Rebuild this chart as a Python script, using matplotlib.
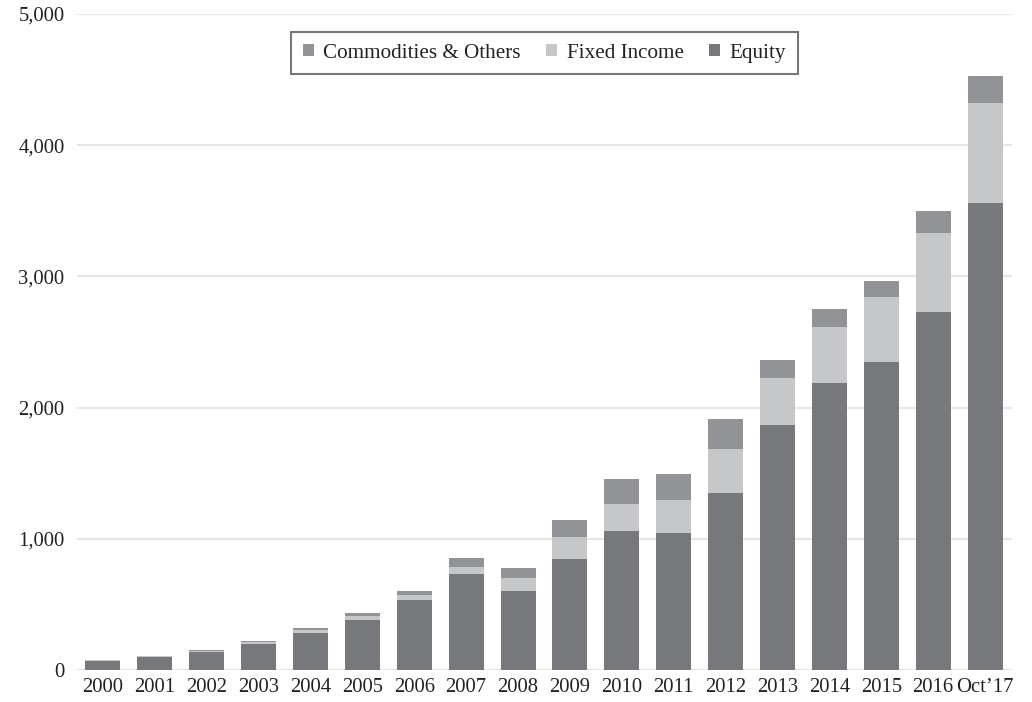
import matplotlib
matplotlib.use("Agg")
import matplotlib.pyplot as plt
import numpy as np

categories = ["2000", "2001", "2002", "2003", "2004", "2005", "2006", "2007", "2008",
              "2009", "2010", "2011", "2012", "2013", "2014", "2015", "2016", "Oct\u201917"]
equity = [70, 100, 135, 198, 282, 381, 534, 732, 602, 846, 1059, 1044, 1349, 1867, 2187, 2348, 2729, 3559]
fixed_income = [3, 4, 8, 12, 22, 30, 38, 53, 100, 168, 206, 252, 335, 359, 427, 495, 602, 763]
commodities = [3, 4, 9, 11, 16, 23, 30, 69, 76, 129, 191, 198, 229, 137, 138, 122, 167, 205]
yticks = [0, 1000, 2000, 3000, 4000, 5000]
ytick_labels = ["0", "1,000", "2,000", "3,000", "4,000", "5,000"]

plt.rcParams['font.family'] = ['Liberation Serif', 'DejaVu Serif']
FS = 14.9
LFS = 15.2

fig = plt.figure(figsize=(10.32, 7.02), dpi=100)
ax = fig.add_axes([77/1032, 1 - 670/702, (1012 - 77)/1032, (670 - 14)/702])

x = np.arange(len(categories))
eq = np.array(equity)
fi = np.array(fixed_income)
co = np.array(commodities)
w = 0.675
b_eq = ax.bar(x, eq, w, color="#77787c", label="Equity", zorder=3)
b_fi = ax.bar(x, fi, w, bottom=eq, color="#c6c7c9", label="Fixed Income", zorder=3)
b_co = ax.bar(x, co, w, bottom=eq + fi, color="#929396", label="Commodities & Others", zorder=3)

ax.set_xlim(-0.5, 17.52)
ax.set_ylim(0, 5000)
ax.set_yticks(yticks)
ax.set_yticklabels(ytick_labels)
ax.set_xticks(x)
ax.set_xticklabels(categories)
ax.tick_params(axis='both', length=0, labelsize=FS, colors="#222222")
ax.tick_params(axis='y', pad=9)
ax.tick_params(axis='x', pad=6)
ax.grid(axis='y', color="#e6e6e6", linewidth=1.5, zorder=0)
for s in ax.spines.values():
    s.set_visible(False)

leg = ax.legend(handles=[b_co, b_fi, b_eq], labels=["Commodities & Others", "Fixed Income", "Equity"],
                loc='upper center', bbox_to_anchor=(0.5, 0.9726), borderaxespad=0, ncol=3, fontsize=LFS,
                frameon=True, fancybox=False, handlelength=0.52, handleheight=0.52,
                handletextpad=0.45, columnspacing=1.2, borderpad=0.55)
leg.get_frame().set_edgecolor("#555555")
leg.get_frame().set_linewidth(1.5)
for t in leg.get_texts():
    t.set_color("#222222")

fig.savefig("out.png", dpi=100)
